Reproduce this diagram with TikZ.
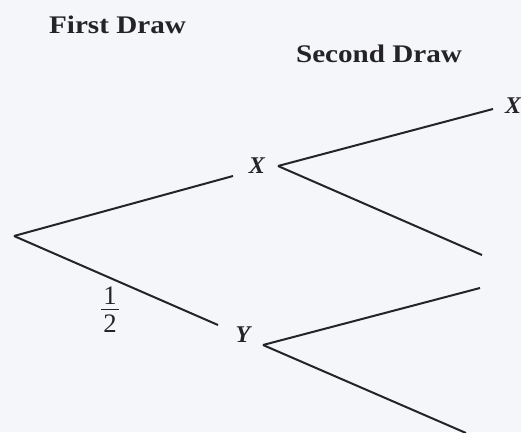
\documentclass[tikz,border=0pt]{standalone}
\usepackage{fontspec}
\usepackage{graphicx}
\setmainfont{Liberation Serif}
\definecolor{paper}{RGB}{245,246,250}
\definecolor{ink}{RGB}{35,35,40}
\newcommand{\stackfrac}[2]{\vbox{\offinterlineskip\hbox to 13.5pt{\hss#1\hss}\kern3pt\hrule height 0.9pt\kern3.75pt\hbox to 13.5pt{\hss#2\hss}}}
\begin{document}
\begin{tikzpicture}[x=0.75pt,y=-0.75pt,
  branch/.style={draw=ink,line width=1.5pt},
  head/.style={inner sep=0pt,anchor=base,text=ink,font=\fontsize{19}{19}\selectfont\bfseries},
  lbl/.style={inner sep=0pt,text=ink,font=\fontsize{18}{18}\selectfont\bfseries\itshape}]
\fill[paper] (0,0) rectangle (521,432);
\useasboundingbox (0,0) rectangle (521,432);
% headings
\node[head] (first) at (117.5,33) {\scalebox{1.15}[1]{First Draw}};
\node[head] (second) at (379,62) {\scalebox{1.15}[1]{Second Draw}};
% points
\coordinate (root) at (14,236);
\coordinate (xin) at (233,176);
\coordinate (yin) at (218,325);
\coordinate (xv) at (278,166);
\coordinate (yv) at (263,345);
\coordinate (xx) at (493,109);
\coordinate (xy) at (482,255);
\coordinate (yx) at (480,288);
\coordinate (yy) at (466,433);
% labels
\node[lbl] (lx) at (257,166) {X};
\node[lbl] (ly) at (243,335) {Y};
\node[lbl] (lxx) at (513,106) {X};
\node[inner sep=0pt,text=ink,font=\fontsize{20}{20}\selectfont] (half) at (110,310)
  {\stackfrac{1}{2}};
% branches
\draw[branch] (root) -- (xin);
\draw[branch] (root) -- (yin);
\draw[branch] (xv) -- (xx);
\draw[branch] (xv) -- (xy);
\draw[branch] (yv) -- (yx);
\draw[branch] (yv) -- (yy);
\end{tikzpicture}
\end{document}
